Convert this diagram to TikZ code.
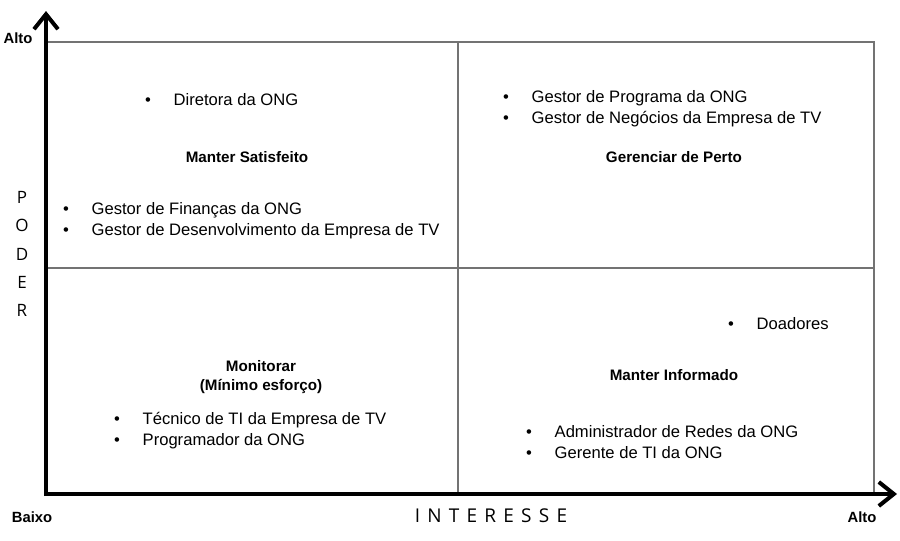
\documentclass[tikz,border=0pt]{standalone}
\usepackage{fontspec}
\setmainfont{Liberation Sans}
\newfontfamily\axisfont{Open Sans}
\usetikzlibrary{arrows.meta}

\newcommand{\bul}{\makebox[28.5pt][l]{\textbullet}}

\tikzset{
  item/.style={anchor=west, inner sep=0pt, align=left, font=\fontsize{16.6}{20.8}\selectfont},
  quad/.style={inner sep=0pt, align=center, font=\bfseries\fontsize{15.2}{18.5}\selectfont},
  lvl/.style={inner sep=0pt, font=\bfseries\fontsize{14.8}{18}\selectfont},
  axis/.style={line width=4pt, -{Straight Barb[length=15pt, width=24pt]}},
  grid line/.style={black!55, line width=1.6pt}
}

\begin{document}
\begin{tikzpicture}[x=1pt, y=-1pt]
  \useasboundingbox (0,0) rectangle (900,541);

  % Quadrant frame
  \draw[grid line] (46,42) -- (874,42) -- (874,494);
  \draw[grid line] (458,42) -- (458,494);
  \draw[grid line] (46,268) -- (874,268);

  % Axes
  \coordinate (O) at (46,494);
  \coordinate (ytip) at (46,11);
  \coordinate (xtip) at (897,494);
  \draw[axis] ([yshift=-2pt]O) -- (ytip);
  \draw[axis] ([xshift=-2pt]O) -- (xtip);

  % Axis labels
  \node[lvl] (alto y) at (18,38) {Alto};
  \node[lvl] (baixo) at (32,517) {Baixo};
  \node[lvl] (alto x) at (862,517) {Alto};
  \node[inner sep=0pt, font=\axisfont\fontsize{19}{19}\selectfont\addfontfeature{LetterSpace=38}] (interesse) at (491,516) {INTERESSE};
  \node[inner sep=0pt, align=center, font=\axisfont\fontsize{17}{28.3}\selectfont] (poder) at (22,254) {P\\O\\D\\E\\R};

  % Manter Satisfeito
  \node[item] (diretora) at (145,100) {\bul Diretora da ONG};
  \node[quad] (satisfeito) at (247,157) {Manter Satisfeito};
  \node[item] (financas) at (63,220.5) {\bul Gestor de Finanças da ONG\\\bul Gestor de Desenvolvimento da Empresa de TV};

  % Gerenciar de Perto
  \node[item] (programa) at (503,108.5) {\bul Gestor de Programa da ONG\\\bul Gestor de Negócios da Empresa de TV};
  \node[quad] (perto) at (674,157) {Gerenciar de Perto};

  % Monitorar
  \node[quad] (monitorar) at (261,377) {Monitorar\\(Mínimo esforço)};
  \node[item] (tecnico) at (114,431) {\bul Técnico de TI da Empresa de TV\\\bul Programador da ONG};

  % Manter Informado
  \node[item] (doadores) at (728,324) {\bul Doadores};
  \node[quad] (informado) at (674,375) {Manter Informado};
  \node[item] (redes) at (526,442) {\bul Administrador de Redes da ONG\\\bul Gerente de TI da ONG};
\end{tikzpicture}
\end{document}
